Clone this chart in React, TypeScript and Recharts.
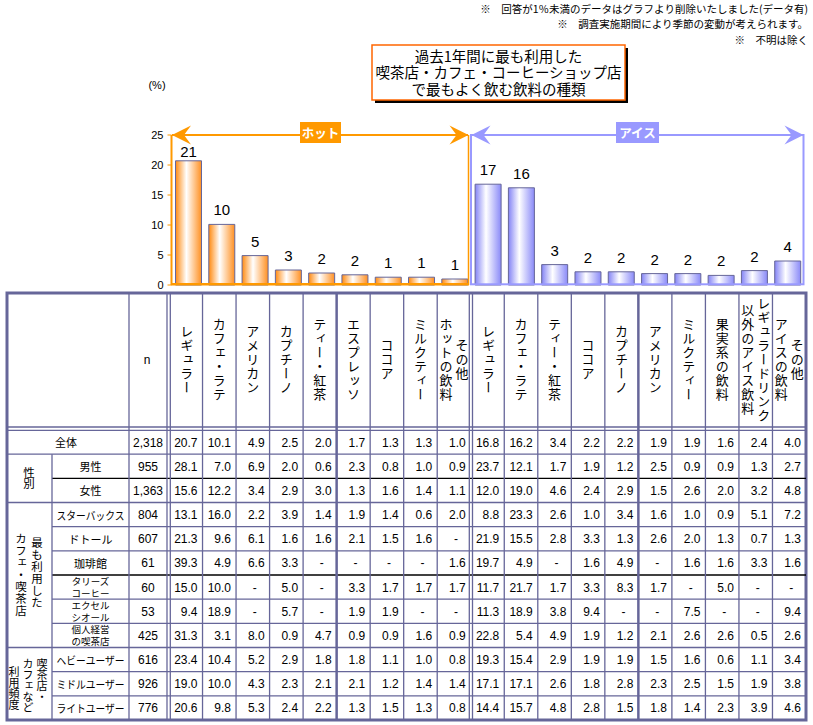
import React from 'react';
import { BarChart, Bar, XAxis, YAxis, Cell, LabelList } from 'recharts';

// ---------- data ----------
const hotCategories = ['レギュラー', 'カフェ・ラテ', 'アメリカン', 'カプチーノ', 'ティー・紅茶', 'エスプレッソ', 'ココア', 'ミルクティー', 'その他ホットの飲料'];
const iceCategories = ['レギュラー', 'カフェ・ラテ', 'ティー・紅茶', 'ココア', 'カプチーノ', 'アメリカン', 'ミルクティー', '果実系の飲料', 'レギュラードリンク以外のアイス飲料', 'その他アイスの飲料'];
const hotShares = [20.7, 10.1, 4.9, 2.5, 2.0, 1.7, 1.3, 1.3, 1.0];
const iceShares = [16.8, 16.2, 3.4, 2.2, 2.2, 1.9, 1.9, 1.6, 2.4, 4.0];
const yTicks = [0, 5, 10, 15, 20, 25];

// header labels (vertical, split into columns right-to-left)
const hotHeaders = [['レギュラー'], ['カフェ・ラテ'], ['アメリカン'], ['カプチーノ'], ['ティー・紅茶'], ['エスプレッソ'], ['ココア'], ['ミルクティー'], ['その他', 'ホットの飲料']];
const iceHeaders = [['レギュラー'], ['カフェ・ラテ'], ['ティー・紅茶'], ['ココア'], ['カプチーノ'], ['アメリカン'], ['ミルクティー'], ['果実系の飲料'], ['レギュラードリンク', '以外のアイス飲料'], ['その他', 'アイスの飲料']];

const rowLabels = [['全体'], ['男性'], ['女性'], ['スターバックス'], ['ドトール'], ['珈琲館'], ['タリーズ', 'コーヒー'], ['エクセル', 'シオール'], ['個人経営', 'の喫茶店'], ['ヘビーユーザー'], ['ミドルユーザー'], ['ライトユーザー']];
const rowN = ['2,318', '955', '1,363', '804', '607', '61', '60', '53', '425', '616', '926', '776'];
const rowHot = [
  ['20.7', '10.1', '4.9', '2.5', '2.0', '1.7', '1.3', '1.3', '1.0'],
  ['28.1', '7.0', '6.9', '2.0', '0.6', '2.3', '0.8', '1.0', '0.9'],
  ['15.6', '12.2', '3.4', '2.9', '3.0', '1.3', '1.6', '1.4', '1.1'],
  ['13.1', '16.0', '2.2', '3.9', '1.4', '1.9', '1.4', '0.6', '2.0'],
  ['21.3', '9.6', '6.1', '1.6', '1.6', '2.1', '1.5', '1.6', '-'],
  ['39.3', '4.9', '6.6', '3.3', '-', '-', '-', '-', '1.6'],
  ['15.0', '10.0', '-', '5.0', '-', '3.3', '1.7', '1.7', '1.7'],
  ['9.4', '18.9', '-', '5.7', '-', '1.9', '1.9', '-', '-'],
  ['31.3', '3.1', '8.0', '0.9', '4.7', '0.9', '0.9', '1.6', '0.9'],
  ['23.4', '10.4', '5.2', '2.9', '1.8', '1.8', '1.1', '1.0', '0.8'],
  ['19.0', '10.0', '4.3', '2.3', '2.1', '2.1', '1.2', '1.4', '1.4'],
  ['20.6', '9.8', '5.3', '2.4', '2.2', '1.3', '1.5', '1.3', '0.8'],
];
const rowIce = [
  ['16.8', '16.2', '3.4', '2.2', '2.2', '1.9', '1.9', '1.6', '2.4', '4.0'],
  ['23.7', '12.1', '1.7', '1.9', '1.2', '2.5', '0.9', '0.9', '1.3', '2.7'],
  ['12.0', '19.0', '4.6', '2.4', '2.9', '1.5', '2.6', '2.0', '3.2', '4.8'],
  ['8.8', '23.3', '2.6', '1.0', '3.4', '1.6', '1.0', '0.9', '5.1', '7.2'],
  ['21.9', '15.5', '2.8', '3.3', '1.3', '2.6', '2.0', '1.3', '0.7', '1.3'],
  ['19.7', '4.9', '-', '1.6', '4.9', '-', '1.6', '1.6', '3.3', '1.6'],
  ['11.7', '21.7', '1.7', '3.3', '8.3', '1.7', '-', '5.0', '-', '-'],
  ['11.3', '18.9', '3.8', '9.4', '-', '-', '7.5', '-', '-', '9.4'],
  ['22.8', '5.4', '4.9', '1.9', '1.2', '2.1', '2.6', '2.6', '0.5', '2.6'],
  ['19.3', '15.4', '2.9', '1.9', '1.9', '1.5', '1.6', '0.6', '1.1', '3.4'],
  ['17.1', '17.1', '2.6', '1.8', '2.8', '2.3', '2.5', '1.5', '1.9', '3.8'],
  ['14.4', '15.7', '4.8', '2.8', '1.5', '1.8', '1.4', '2.3', '3.9', '4.6'],
];
const groupLabels = [
  { from: 1, to: 2, cols: ['性別'] },
  { from: 3, to: 8, cols: ['最も利用した', 'カフェ・喫茶店'] },
  { from: 9, to: 11, cols: ['喫茶店・', 'カフェなど', '利用頻度'] },
];
const notes = ['※　回答が1％未満のデータはグラフより削除いたしました(データ有)', '※　調査実施期間により季節の変動が考えられます。', '※　不明は除く'];
const titleLines = ['過去1年間に最も利用した', '喫茶店・カフェ・コーヒーショップ店', 'で最もよく飲む飲料の種類'];

// ---------- layout ----------
const W = 813;
const H = 725;
const PLOT_TOP = 135;
const PLOT_BOTTOM = 285;
const PLOT_LEFT = 171.5;
const PLOT_RIGHT = 804;
const Y_AXIS_W = 40;
const ORANGE = '#FF9900';
const BLUE = '#9999FF';
const SLATE = '#666699';
const JP = '"Noto Sans CJK JP", "Noto Sans", sans-serif';
const LAT = '"Liberation Sans", Arial, sans-serif';

const T_LEFT = 7;
const T_RIGHT = 806;
const T_TOP = 293;
const T_HEAD = 430;
const T_BOTTOM = 720;
const COL0 = 169;
const COLW = (T_RIGHT - COL0) / 19;
const ROWH = (T_BOTTOM - T_HEAD) / 12;
const colX = (i: number) => COL0 + i * COLW;
const rowY = (r: number) => T_HEAD + r * ROWH;

const chartData = [
  ...hotCategories.map((c, i) => ({ key: `hot-${i}`, name: c, group: 'hot', value: hotShares[i] })),
  ...iceCategories.map((c, i) => ({ key: `ice-${i}`, name: c, group: 'ice', value: iceShares[i] })),
];

const renderTopLabel = (props: any) => {
  const { x, y, width, value } = props;
  const baseline = Math.max(Number(y) - 9, PLOT_TOP + 22);
  return (
    <text x={Number(x) + Number(width) / 2} y={baseline} textAnchor="middle" fontSize={15} fontFamily={LAT} fill="#000">
      {Math.round(Number(value))}
    </text>
  );
};

// vertical (tategaki) text; several columns kept in one text element
const VText = ({ cols, size, spacing = 0 }: { cols: { x: number; y: number; t: string }[]; size: number; spacing?: number }) => (
  <text
    textAnchor="middle"
    fontSize={size}
    fontFamily={JP}
    fill="#000"
    style={{ writingMode: 'vertical-rl', letterSpacing: spacing } as any}
  >
    {cols.map((c, i) => (
      <tspan key={i} x={c.x} y={c.y}>
        {c.t}
      </tspan>
    ))}
  </text>
);

const leftArrow = (tx: number, color: string) => (
  <path d={`M${tx},135 L${tx + 19},125.5 L${tx + 12},135 L${tx + 19},144.5 Z`} fill={color} />
);
const rightArrow = (tx: number, color: string) => (
  <path d={`M${tx},135 L${tx - 19},125.5 L${tx - 12},135 L${tx - 19},144.5 Z`} fill={color} />
);

const Overlay = () => {
  const headers = [...hotHeaders, ...iceHeaders];
  const values = rowHot.map((r, i) => [...r, ...rowIce[i]]);
  const rowLines: React.ReactNode[] = [];
  for (let r = 1; r < 12; r++) {
    const full = r === 1 || r === 3 || r === 9;
    const black = r === 2 || r === 6;
    rowLines.push(
      <line key={`rl${r}`} x1={full ? T_LEFT : 52} x2={T_RIGHT} y1={rowY(r)} y2={rowY(r)} stroke={black ? '#000' : SLATE} strokeWidth={1.3} />
    );
  }
  const colLines: React.ReactNode[] = [];
  for (let i = 1; i < 19; i++) {
    if (i === 9) continue;
    const thick = i === 5 || i === 14;
    colLines.push(
      <line key={`cl${i}`} x1={colX(i)} x2={colX(i)} y1={T_TOP} y2={T_BOTTOM} stroke={SLATE} strokeWidth={thick ? 2.5 : 1.3} />
    );
  }
  return (
    <svg width={W} height={H} style={{ position: 'absolute', left: 0, top: 0, pointerEvents: 'none' }}>
      {/* notes */}
      {notes.map((n, i) => (
        <text key={n} x={808} y={[8, 23, 39][i]} textAnchor="end" dominantBaseline="central" fontSize={10.5} fontFamily={JP} fill="#000">
          {n}
        </text>
      ))}
      {/* title box */}
      <rect x={375} y={48} width={253} height={55} fill="#000" />
      <rect x={372} y={45} width={253} height={55} fill="#fff" stroke="#FF6600" strokeWidth={1.5} />
      {titleLines.map((t, i) => (
        <text key={t} x={498.5} y={55 + i * 16.5} textAnchor="middle" dominantBaseline="central" fontSize={14.5} fontFamily={JP} fill="#000">
          {t}
        </text>
      ))}
      <text x={157} y={85} textAnchor="middle" dominantBaseline="central" fontSize={11} fontFamily={LAT} fill="#000">(%)</text>

      {/* hot frame */}
      <line x1={172} x2={468} y1={135} y2={135} stroke={ORANGE} strokeWidth={2} />
      <line x1={468.5} x2={468.5} y1={135} y2={285} stroke={ORANGE} strokeWidth={1.5} />
      <line x1={171} x2={469} y1={284.3} y2={284.3} stroke={ORANGE} strokeWidth={2.5} />
      {leftArrow(172, ORANGE)}
      {rightArrow(468.5, ORANGE)}
      <rect x={300} y={122} width={41} height={21} fill={ORANGE} />
      <text x={320.5} y={132.5} textAnchor="middle" dominantBaseline="central" fontSize={12.5} fontWeight="bold" fontFamily={JP} fill="#fff">ホット</text>

      {/* ice frame */}
      <rect x={471} y={135} width={332.5} height={149.3} fill="none" stroke={BLUE} strokeWidth={2} />
      {leftArrow(471.5, BLUE)}
      {rightArrow(803.5, BLUE)}
      <rect x={616} y={122} width={43} height={21} fill={BLUE} />
      <text x={637.5} y={132.5} textAnchor="middle" dominantBaseline="central" fontSize={12.5} fontWeight="bold" fontFamily={JP} fill="#fff">アイス</text>

      {/* table */}
      <rect x={T_LEFT} y={T_TOP} width={T_RIGHT - T_LEFT} height={T_BOTTOM - T_TOP} fill="#fff" stroke={SLATE} strokeWidth={3} />
      {rowLines}
      {colLines}
      <line x1={52} x2={52} y1={rowY(1)} y2={T_BOTTOM} stroke={SLATE} strokeWidth={1.3} />
      <line x1={129} x2={129} y1={T_TOP} y2={T_BOTTOM} stroke={SLATE} strokeWidth={1.3} />
      <line x1={167} x2={167} y1={T_TOP} y2={T_BOTTOM} stroke={SLATE} strokeWidth={1.3} />
      <line x1={170.3} x2={170.3} y1={T_TOP} y2={T_BOTTOM} stroke={SLATE} strokeWidth={1.3} />
      <line x1={469.3} x2={469.3} y1={T_TOP} y2={T_BOTTOM} stroke={SLATE} strokeWidth={1.3} />
      <line x1={472.5} x2={472.5} y1={T_TOP} y2={T_BOTTOM} stroke={SLATE} strokeWidth={1.3} />
      <line x1={T_LEFT} x2={T_RIGHT} y1={427} y2={427} stroke={SLATE} strokeWidth={1.3} />
      <line x1={T_LEFT} x2={T_RIGHT} y1={430.3} y2={430.3} stroke={SLATE} strokeWidth={1.3} />

      {/* header */}
      <text x={147} y={364} textAnchor="middle" fontSize={12} fontFamily={LAT} fill="#000">n</text>
      {headers.map((h, i) => {
        const cx = colX(i) + COLW / 2 + (i === 0 || i === 9 ? 1 : 0);
        const cols = h.length === 1 ? [{ x: cx, y: 360, t: h[0] }] : [{ x: cx + 8, y: 360, t: h[0] }, { x: cx - 8, y: 360, t: h[1] }];
        return <VText key={`h${i}`} cols={cols} size={13} spacing={1} />;
      })}

      {/* group labels */}
      {groupLabels.map((g) => {
        const cy = (rowY(g.from) + rowY(g.to + 1)) / 2;
        const n = g.cols.length;
        const xs = n === 1 ? [29] : n === 2 ? [37, 21] : [42, 28, 14];
        const offs = n === 1 ? [0] : n === 2 ? [-2, 0] : [-3, 2, 5];
        return (
          <VText
            key={g.cols.join('')}
            cols={g.cols.map((c, j) => ({ x: xs[j], y: cy + offs[j], t: c }))}
            size={n === 3 ? 11 : 11.5}
            spacing={n === 2 ? 0.5 : 0}
          />
        );
      })}

      {/* rows */}
      {rowLabels.map((lbl, r) => {
        const cy = rowY(r) + ROWH / 2;
        const lx = r === 0 ? 66 : 90.5;
        return (
          <g key={`r${r}`}>
            {lbl.length === 1 ? (
              <text
                x={lx}
                y={cy}
                textAnchor="middle"
                dominantBaseline="central"
                fontSize={11}
                fontFamily={JP}
                fill="#000"
                {...(lbl[0].length >= 7 ? { textLength: 68, lengthAdjust: 'spacingAndGlyphs' } : {})}
              >
                {lbl[0]}
              </text>
            ) : (
              <text textAnchor="middle" dominantBaseline="central" fontSize={9.5} fontFamily={JP} fill="#000">
                {lbl.map((l, k) => (
                  <tspan key={l} x={lx} y={cy - 6 + k * 12}>
                    {l}
                  </tspan>
                ))}
              </text>
            )}
            <text x={148} y={cy + 4.5} textAnchor="middle" fontSize={12} fontFamily={LAT} fill="#000">{rowN[r]}</text>
            {values[r].map((v, i) =>
              v === '-' ? (
                <text key={i} x={colX(i) + COLW / 2 + 2} y={cy + 4.5} textAnchor="middle" fontSize={12} fontFamily={LAT} fill="#000">-</text>
              ) : (
                <text key={i} x={colX(i + 1) - 5} y={cy + 4.5} textAnchor="end" fontSize={12} fontFamily={LAT} fill="#000">{v}</text>
              )
            )}
          </g>
        );
      })}
    </svg>
  );
};

export default function App() {
  return (
    <div style={{ position: 'absolute', left: 0, top: 0, width: W, height: H, background: '#fff', fontFamily: LAT }}>
      <BarChart
        width={W}
        height={H}
        data={chartData}
        barSize={26}
        margin={{ top: PLOT_TOP, right: W - PLOT_RIGHT, bottom: H - PLOT_BOTTOM, left: PLOT_LEFT - Y_AXIS_W }}
      >
        <defs>
          <linearGradient id="hotGrad" x1="0" y1="0" x2="1" y2="0">
            <stop offset="0%" stopColor="#FF8A10" />
            <stop offset="42%" stopColor="#FFFFFF" />
            <stop offset="100%" stopColor="#FF9022" />
          </linearGradient>
          <linearGradient id="iceGrad" x1="0" y1="0" x2="1" y2="0">
            <stop offset="0%" stopColor="#8484F5" />
            <stop offset="42%" stopColor="#FFFFFF" />
            <stop offset="100%" stopColor="#8A8AF8" />
          </linearGradient>
        </defs>
        <XAxis dataKey="key" hide />
        <YAxis
          domain={[0, 25]}
          ticks={yTicks}
          interval={0}
          width={Y_AXIS_W}
          axisLine={{ stroke: ORANGE, strokeWidth: 2 }}
          tickLine={{ stroke: ORANGE }}
          tickSize={4}
          tickMargin={4}
          tick={{ fill: '#000', fontSize: 11, fontFamily: LAT }}
        />
        <Bar dataKey="value" isAnimationActive={false} stroke={SLATE} strokeWidth={1}>
          {chartData.map((d) => (
            <Cell key={d.key} fill={d.group === 'hot' ? 'url(#hotGrad)' : 'url(#iceGrad)'} />
          ))}
          <LabelList dataKey="value" content={renderTopLabel} />
        </Bar>
      </BarChart>
      <Overlay />
    </div>
  );
}
